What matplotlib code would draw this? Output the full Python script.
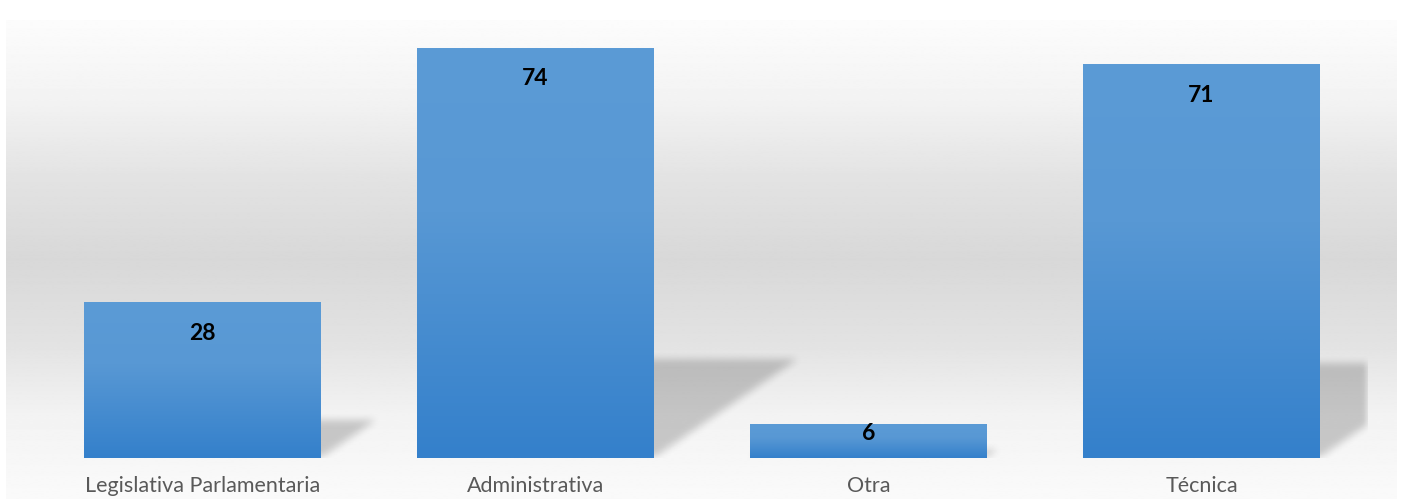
import numpy as np
import matplotlib
matplotlib.use("Agg")
import matplotlib.pyplot as plt
from matplotlib.path import Path
from matplotlib.colors import LinearSegmentedColormap

# data
categories = ["Legislativa Parlamentaria", "Administrativa", "Otra", "Técnica"]
values = [28, 74, 6, 71]

W, H = 1401, 499
fig = plt.figure(figsize=(W / 100, H / 100), dpi=100)
fig.patch.set_facecolor("white")

# chart area background: gray band fading to white at top and bottom
bg_ax = fig.add_axes([6 / W, 0, 1391 / W, 479 / H], zorder=-2)
stops_y = np.array([0.0, 0.17, 0.33, 0.50, 0.66, 0.84, 1.0])
stops_v = np.array([250, 243, 226, 216, 226, 243, 252]) / 255.0
yy = np.linspace(0, 1, 400)
grad = np.interp(yy, stops_y, stops_v)
bg_ax.imshow(np.repeat(grad[:, None], 2, axis=1), cmap="gray", vmin=0, vmax=1,
             aspect="auto", origin="lower", extent=(0, 1, 0, 1), interpolation="bilinear")
bg_ax.set_axis_off()

# plot area
ax_l, ax_b, ax_w, ax_h = 36, 41, 1332, 443
ax = fig.add_axes([ax_l / W, ax_b / H, ax_w / W, ax_h / H])
ax.patch.set_alpha(0)
ymax = 80
ax.set_xlim(-0.5, len(values) - 0.5)
ax.set_ylim(0, ymax)
px_x = ax_w / len(values)
px_y = ax_h / ymax
bar_w = 0.71

# perspective shadows, rasterised and blurred
nx, ny = ax_w, ax_h
gx = np.linspace(-0.5, len(values) - 0.5, nx)
gy = np.linspace(0, ymax, ny)
GX, GY = np.meshgrid(gx, gy)
pts = np.column_stack([GX.ravel(), GY.ravel()])
mask = np.zeros(GX.size)
for i, v in enumerate(values):
    x0, x1 = i - bar_w / 2, i + bar_w / 2
    dx = 0.35 * v * px_y / px_x
    sh = 0.24 * v
    poly = Path([(x0, 0), (x1, 0), (x1 + dx, sh), (x0 + dx, sh), (x0, 0)])
    mask = np.maximum(mask, poly.contains_points(pts).astype(float))
mask = mask.reshape(ny, nx)


def box_blur(a, r, axis):
    k = np.ones(2 * r + 1) / (2 * r + 1)
    return np.apply_along_axis(lambda m: np.convolve(m, k, mode="same"), axis, a)


for _ in range(2):
    mask = box_blur(mask, 4, 0)
    mask = box_blur(mask, 4, 1)
shadow = np.zeros((ny, nx, 4))
shadow[..., 3] = mask * 0.19
ax.imshow(shadow, extent=(-0.5, len(values) - 0.5, 0, ymax), origin="lower",
          aspect="auto", zorder=1, interpolation="bilinear")

# bars with vertical gradient
bar_cmap = LinearSegmentedColormap.from_list(
    "bar", [(0.0, "#3480CB"), (0.6, "#5898D4"), (1.0, "#5B9BD6")])
bgrad = np.linspace(0, 1, 256)[:, None]
for i, v in enumerate(values):
    x0, x1 = i - bar_w / 2, i + bar_w / 2
    ax.imshow(bgrad, cmap=bar_cmap, extent=(x0, x1, 0, v), origin="lower",
              aspect="auto", zorder=2, interpolation="bilinear")
    off = -20 if v * px_y > 60 else 2
    ax.annotate(str(v), (i, v), xytext=(0, off * 0.72), textcoords="offset points",
                ha="center", va="top", fontsize=16.5, fontweight="bold",
                family=["Lato", "DejaVu Sans"], color="black", zorder=3)

ax.set_xlim(-0.5, len(values) - 0.5)
ax.set_ylim(0, ymax)
ax.set_xticks(range(len(values)))
ax.set_xticklabels(categories, fontsize=15.5, color="#595959", family=["Lato", "DejaVu Sans"])
ax.tick_params(axis="x", length=0, pad=13)
ax.set_yticks([])
for s in ax.spines.values():
    s.set_visible(False)

fig.savefig("out.png", dpi=100)
